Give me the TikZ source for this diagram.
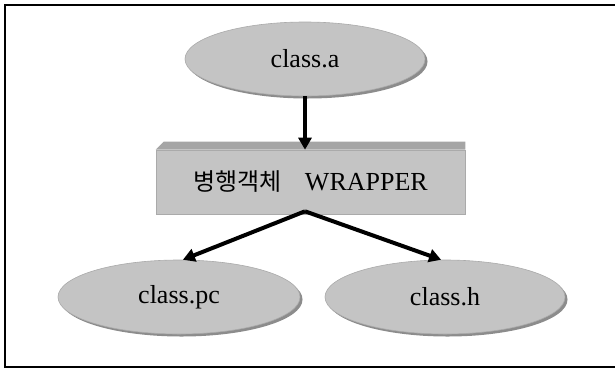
\documentclass[tikz,border=0pt]{standalone}
\usepackage{fontspec}
\setmainfont{Liberation Serif}
\newfontfamily\krfont{Noto Sans CJK KR}
\usetikzlibrary{shapes.geometric,shadows,arrows.meta}
\definecolor{nodefill}{RGB}{196,196,196}
\definecolor{shadowc}{RGB}{140,140,140}
\definecolor{bevelc}{RGB}{165,165,165}
\definecolor{edgec}{RGB}{170,170,170}
\begin{document}
\begin{tikzpicture}[x=1pt,y=-1pt,
  oval/.style={ellipse, fill=nodefill, draw=edgec, line width=0.6pt, inner sep=0pt,
    font=\fontsize{26}{30}\selectfont,
    drop shadow={shadow xshift=2.5pt, shadow yshift=-2.5pt, fill=shadowc, opacity=1}},
  box/.style={rectangle, fill=nodefill, draw=edgec, line width=0.6pt, inner sep=0pt,
    font=\fontsize{26}{30}\selectfont},
  arr/.style={line width=4pt, -{Triangle[length=12pt,width=13pt]}}]
\useasboundingbox (0,0) rectangle (615,370);
\draw[line width=2pt] (616,5) -- (5,5) -- (5,367) -- (616,367);

\node[oval, minimum width=240pt, minimum height=74pt] (a) at (305,59) {class.a};
\node[box, minimum width=309pt, minimum height=64pt] (w) at (310.5,182)
  {{\krfont\fontsize{24}{28}\selectfont 병행객체}\hspace{0.9em}WRAPPER};
\fill[bevelc] (w.north west) -- ++(8,-8) -- ([yshift=8pt]w.north east) -- (w.north east) -- cycle;
\node[oval, minimum width=242pt, minimum height=74pt] (pc) at (179,297) {class.pc};
\node[oval, minimum width=240pt, minimum height=74pt] (h) at (445,297) {class.h};

\coordinate (apex) at ([xshift=-5.5pt,yshift=3pt]w.south);
\draw[arr] (a.south) -- (a.south |- w.north);
\draw[arr] (apex) -- (pc.84);
\draw[arr] (apex) -- (h.96);
\end{tikzpicture}
\end{document}
